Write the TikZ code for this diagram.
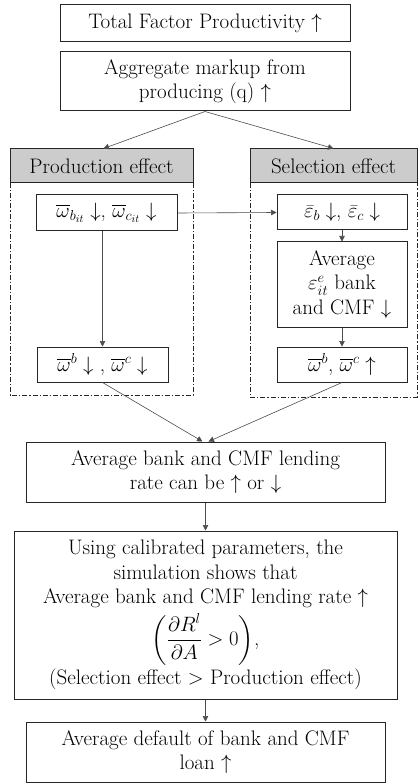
\documentclass[tikz,border=0pt]{standalone}
\usepackage{amsmath}
\usetikzlibrary{arrows.meta}
\newcommand\boxfont{\fontsize{21}{24.5}\selectfont}
\tikzset{
  box/.style={draw=black!85, line width=1pt, fill=white, align=center,
    inner sep=0pt, font=\boxfont},
  head/.style={box, fill=black!20},
  arr/.style={draw=black!70, line width=0.6pt,
    -{Triangle[length=5.5pt,width=5.5pt]}},
  frame/.style={draw=black!85, line width=0.9pt,
    dash pattern=on 5pt off 2pt on 1.2pt off 2pt},
}
\begin{document}
\begin{tikzpicture}[x=1pt,y=-1pt]
\useasboundingbox (0,0) rectangle (418,783);

% dash-dotted panels of the two effects
\draw[frame] (10,183) -- (10,395) -- (193,395) -- (193,183);
\draw[frame] (250,183) -- (250,397) -- (417,397) -- (417,183);

\node[box, minimum width=290pt, minimum height=37pt] (tfp) at (205,23.5)
  {Total Factor Productivity $\uparrow$};
\node[box, minimum width=290pt, minimum height=59pt] (agg) at (205,81.5)
  {Aggregate markup from\\ producing (q) $\uparrow$};

\node[head, minimum width=183pt, minimum height=34pt] (prodh) at (101.5,166)
  {Production effect};
\node[head, minimum width=167pt, minimum height=34pt] (selh) at (333.5,166)
  {Selection effect};

\node[box, minimum width=141pt, minimum height=36pt] (w1) at (106.5,213)
  {$\overline{\omega}_{b_{it}}\downarrow$, $\overline{\omega}_{c_{it}}\downarrow$};
\node[box, minimum width=131pt, minimum height=35pt] (w2) at (102.5,364.5)
  {$\overline{\omega}^{b}\downarrow$ , $\overline{\omega}^{c}\downarrow$};

\node[box, minimum width=130pt, minimum height=35pt] (e1) at (342,212.5)
  {$\bar{\varepsilon}_{b}\downarrow$, $\bar{\varepsilon}_{c}\downarrow$};
\node[box, minimum width=130pt, minimum height=85pt] (avg) at (342,284.5)
  {Average\\ $\varepsilon^{e}_{it}$ bank\\ and CMF $\downarrow$};
\node[box, minimum width=130pt, minimum height=35pt] (w3) at (342,364.5)
  {$\overline{\omega}^{b}$, $\overline{\omega}^{c}\uparrow$};

\node[box, minimum width=359pt, minimum height=60pt] (lend) at (205.5,472)
  {Average bank and CMF lending\\ rate can be $\uparrow$ or $\downarrow$};
\node[box, minimum width=383pt, minimum height=168pt] (calib) at (205.5,615)
  {Using calibrated parameters, the\\ simulation shows that\\
   Average bank and CMF lending rate $\uparrow$\\[5pt]
   $\left(\dfrac{\partial R^{l}}{\partial A}>0\right)$,\\[3pt]
   (Selection effect $>$ Production effect)};
\node[box, minimum width=359pt, minimum height=60pt] (dflt) at (205.5,752)
  {Average default of bank and CMF\\ loan $\uparrow$};

% connectors
\draw[arr] (agg.south) -- ([xshift=2pt]prodh.north);
\draw[arr] (agg.south) -- (selh.north);
\draw[arr] (w1.east) -- (e1.west);
\draw[arr] (w2.north |- w1.south) -- (w2.north);
\draw[arr] (e1.south) -- (avg.north);
\draw[arr] (avg.south) -- (w3.north);
\draw[arr] (w2.south) -- ([xshift=-3pt]lend.north);
\draw[arr] (w3.south) -- ([xshift=3pt]lend.north);
\draw[arr] (lend.south) -- (calib.north);
\draw[arr] (calib.south) -- (dflt.north);
\end{tikzpicture}
\end{document}
